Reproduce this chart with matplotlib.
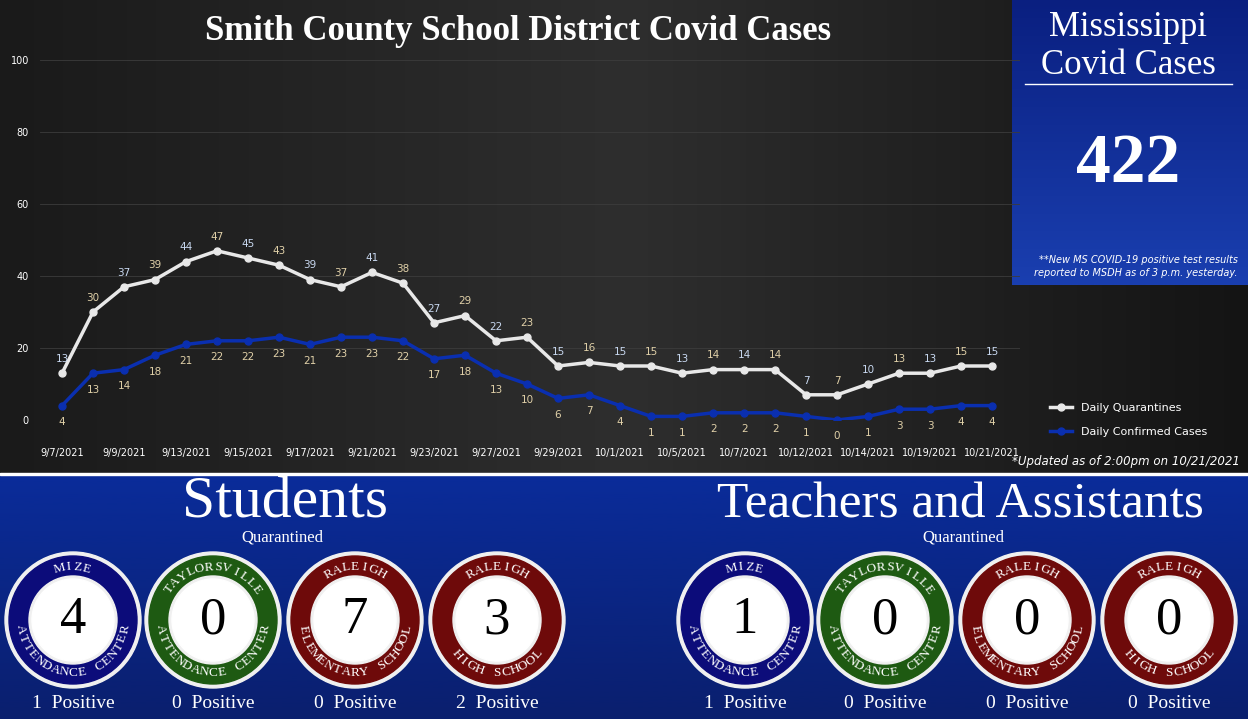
import numpy as np
import matplotlib.pyplot as plt
from matplotlib.patches import Rectangle, Circle

# ---- data ----
dates = ['9/7/2021', '9/9/2021', '9/13/2021', '9/15/2021', '9/17/2021', '9/21/2021',
         '9/23/2021', '9/27/2021', '9/29/2021', '10/1/2021', '10/5/2021', '10/7/2021',
         '10/12/2021', '10/14/2021', '10/19/2021', '10/21/2021']
quarantines = [13, 30, 37, 39, 44, 47, 45, 43, 39, 37, 41, 38, 27, 29, 22, 23,
               15, 16, 15, 15, 13, 14, 14, 14, 7, 7, 10, 13, 13, 15, 15]
confirmed = [4, 13, 14, 18, 21, 22, 22, 23, 21, 23, 23, 22, 17, 18, 13, 10,
             6, 7, 4, 1, 1, 2, 2, 2, 1, 0, 1, 3, 3, 4, 4]
schools_top = ['MIZE', 'TAYLORSVILLE', 'RALEIGH', 'RALEIGH']
schools_bottom = ['ATTENDANCE CENTER', 'ATTENDANCE CENTER', 'ELEMENTARY SCHOOL', 'HIGH SCHOOL']
school_colors = ['#0c0c7a', '#1e5a12', '#6e0a0a', '#6e0a0a']
students_quar = [4, 0, 7, 3]
students_pos = [1, 0, 0, 2]
teachers_quar = [1, 0, 0, 0]
teachers_pos = [1, 0, 0, 0]
ms_cases = 422

W, H = 1248, 719
fig = plt.figure(figsize=(W / 100, H / 100), dpi=100)
bg = fig.add_axes([0, 0, 1, 1])
bg.set_xlim(0, W)
bg.set_ylim(H, 0)
bg.axis('off')

# backgrounds
g = np.linspace(0, 1, 256).reshape(1, -1)
bg.imshow(np.vstack([g, g]), cmap=plt.cm.colors.LinearSegmentedColormap.from_list('d', ['#1a1a1a', '#2e2e2e', '#141414']),
          extent=(0, W, 473, 0), aspect='auto', zorder=0)
gb = np.linspace(0, 1, 256).reshape(-1, 1)
bg.imshow(gb, cmap=plt.cm.colors.LinearSegmentedColormap.from_list('b', ['#0a2c9a', '#0a1f6e']),
          extent=(0, W, H, 475), aspect='auto', zorder=0)
bg.add_patch(Rectangle((0, 473), W, 2, color='white', zorder=1))
bg.imshow(gb, cmap=plt.cm.colors.LinearSegmentedColormap.from_list('c', ['#0a1f80', '#1a3fb0']),
          extent=(1012, W, 285, 0), aspect='auto', zorder=1)

serif = 'Liberation Serif'
bg.text(518, 32, 'Smith County School District Covid Cases', color='white', fontsize=25,
        family=serif, ha='center', va='center', fontweight='bold')
bg.text(1128, 27, 'Mississippi', color='white', fontsize=25, family=serif, ha='center', va='center')
bg.text(1128, 65, 'Covid Cases', color='white', fontsize=25, family=serif, ha='center', va='center')
bg.plot([1025, 1232], [84, 84], color='white', lw=1)
bg.text(1128, 165, str(ms_cases), color='white', fontsize=50, family=serif, fontweight='bold',
        ha='center', va='center')
bg.text(1238, 260, '**New MS COVID-19 positive test results', color='white', fontsize=7,
        style='italic', ha='right', va='center')
bg.text(1238, 273, 'reported to MSDH as of 3 p.m. yesterday.', color='white', fontsize=7,
        style='italic', ha='right', va='center')
bg.text(1240, 461, '*Updated as of 2:00pm on 10/21/2021', color='white', fontsize=8.5,
        style='italic', ha='right', va='center')

# ---- line chart ----
ax = fig.add_axes([40 / W, (H - 420) / H, 980 / W, 360 / H])
ax.set_facecolor('none')
x = np.arange(len(quarantines))
ax.set_xlim(-0.71, 30.9)
ax.set_ylim(0, 100)
for yv in range(20, 101, 20):
    ax.axhline(yv, color='#3c3c3c', lw=0.6, zorder=0)
ax.plot(x, quarantines, color='#e8e8e8', lw=2.5, marker='o', ms=5, label='Daily Quarantines')
ax.plot(x, confirmed, color='#0a2fb0', lw=2.5, marker='o', ms=5, label='Daily Confirmed Cases')
for i, (q, c) in enumerate(zip(quarantines, confirmed)):
    ax.annotate(str(q), (i, q), xytext=(0, 8), textcoords='offset points', ha='center',
                fontsize=7.5, color='#e0d0a8' if i % 2 else '#c8d8f0')
    ax.annotate(str(c), (i, c), xytext=(0, -14), textcoords='offset points', ha='center',
                fontsize=7.5, color='#e0d0a8')
ax.set_xticks(x[::2])
ax.set_xticklabels(dates, fontsize=7, color='white')
ax.set_yticks(range(0, 101, 20))
ax.tick_params(axis='y', labelsize=7, colors='white', length=0, pad=8)
ax.tick_params(axis='x', length=0, pad=20)
for s in ax.spines.values():
    s.set_visible(False)
leg = ax.legend(loc='center left', bbox_to_anchor=(1.02, 0.0), frameon=False,
                fontsize=8, labelcolor='white', handlelength=2, labelspacing=1.3)


# ---- badges ----
def arc_text(txt, cx, cy, r, top, size):
    step = np.radians(size * 1.85) * 30 / r
    n = len(txt)
    for k, ch in enumerate(txt):
        off = (k - (n - 1) / 2) * step
        if top:
            th = np.pi / 2 - off
            rot = np.degrees(th) - 90
        else:
            th = -np.pi / 2 + off
            rot = np.degrees(th) + 90
        bg.text(cx + r * np.cos(th), cy - r * np.sin(th), ch, rotation=rot, color='white',
                fontsize=size, family=serif, ha='center', va='center', rotation_mode='anchor')


def badge(cx, name_t, name_b, col, num, pos):
    cy = 620
    bg.add_patch(Circle((cx, cy), 68, color='#f0f0f0', zorder=2))
    bg.add_patch(Circle((cx, cy), 64, color=col, zorder=2))
    bg.add_patch(Circle((cx, cy), 44, color='#f0f0f0', zorder=2))
    bg.add_patch(Circle((cx, cy), 41, color='white', zorder=2))
    bg.text(cx, cy, str(num), fontsize=38, family=serif, ha='center', va='center', zorder=3)
    arc_text(name_t, cx, cy, 53, True, 9.5)
    arc_text(name_b, cx, cy, 53, False, 9.5)
    bg.text(cx, 704, f'{pos}  Positive', color='white', fontsize=14, family=serif,
            ha='center', va='center')


for i, cx in enumerate([73, 213, 355, 497]):
    badge(cx, schools_top[i], schools_bottom[i], school_colors[i], students_quar[i], students_pos[i])
for i, cx in enumerate([745, 885, 1027, 1169]):
    badge(cx, schools_top[i], schools_bottom[i], school_colors[i], teachers_quar[i], teachers_pos[i])

bg.text(285, 503, 'Students', color='white', fontsize=43, family=serif, ha='center', va='center')
bg.text(282, 537, 'Quarantined', color='white', fontsize=12, family=serif, ha='center', va='center')
bg.text(960, 505, 'Teachers and Assistants', color='white', fontsize=37, family=serif, ha='center', va='center')
bg.text(963, 537, 'Quarantined', color='white', fontsize=12, family=serif, ha='center', va='center')

fig.savefig('out.png', dpi=100)
